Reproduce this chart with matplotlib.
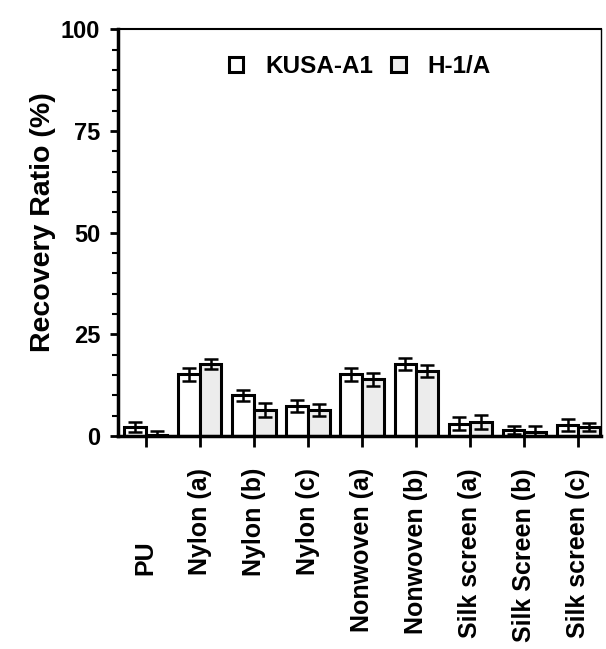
import matplotlib
matplotlib.use("Agg")
import matplotlib.pyplot as plt
import numpy as np
from matplotlib.transforms import ScaledTranslation
from matplotlib.ticker import MultipleLocator

categories = ["PU", "Nylon (a)", "Nylon (b)", "Nylon (c)", "Nonwoven (a)",
              "Nonwoven (b)", "Silk screen (a)", "Silk Screen (b)", "Silk screen (c)"]
kusa = [2.2, 15.2, 10.0, 7.4, 15.2, 17.8, 3.1, 1.6, 2.7]
kusa_err = [1.3, 1.6, 1.4, 1.5, 1.6, 1.5, 1.5, 1.0, 1.4]
h1a = [0.3, 17.7, 6.4, 6.4, 14.0, 16.0, 3.5, 1.0, 2.3]
h1a_err = [1.0, 1.3, 1.7, 1.4, 1.6, 1.4, 1.8, 1.5, 1.0]
series_names = ["KUSA-A1", "H-1/A"]
yticks = [0, 25, 50, 75, 100]

plt.rcParams['font.family'] = ['Liberation Sans', 'DejaVu Sans']
plt.rcParams['font.weight'] = 'bold'

fig = plt.figure(figsize=(6.06, 6.49), dpi=100)
ax = fig.add_axes([0.195, 0.328, 0.797, 0.627])

x = np.arange(len(categories))
w = 0.4
ekw = dict(elinewidth=1.8, capthick=1.8)
ax.bar(x - w / 2, kusa, w, yerr=kusa_err, color='white', edgecolor='black',
       linewidth=2.2, capsize=5, error_kw=ekw, label=series_names[0], zorder=2)
ax.bar(x + w / 2, h1a, w, yerr=h1a_err, color='#ececec', edgecolor='black',
       linewidth=2.2, capsize=5, error_kw=ekw, label=series_names[1], zorder=2)

ax.set_xlim(-0.51, 8.42)
ax.set_ylim(0, 100)
ax.set_yticks(yticks)
ax.set_yticklabels([str(t) for t in yticks], fontsize=17, fontweight='bold')
ax.yaxis.set_minor_locator(MultipleLocator(5))
ax.tick_params(axis='y', which='major', direction='out', length=6, width=2, pad=7)
ax.tick_params(axis='y', which='minor', direction='out', length=4, width=1.5)
ax.set_xticks(x)
ax.set_xticklabels(categories, rotation=90, fontsize=18, fontweight='bold', va='top')
ax.tick_params(axis='x', direction='out', length=8, width=2, pad=15)

# PU label sits lower in the original (its end lines up with Nylon (a))
lbl = ax.get_xticklabels()[0]
lbl.set_transform(lbl.get_transform() + ScaledTranslation(0, -0.72, fig.dpi_scale_trans))

ax.set_ylabel("Recovery Ratio (%)", fontsize=20.5, fontweight='bold')
ax.yaxis.set_label_coords(-0.128, 0.526)

ax.spines['left'].set_linewidth(2.5)
ax.spines['bottom'].set_linewidth(2.5)
ax.spines['top'].set_linewidth(1.5)
ax.spines['right'].set_linewidth(1.0)

ax.legend(loc='upper center', bbox_to_anchor=(0.50, 0.99), ncol=2, frameon=False,
          prop={'weight': 'bold', 'size': 17.5}, handlelength=0.6,
          handleheight=0.6, columnspacing=0.75, handletextpad=0.9)

fig.savefig("out.png", dpi=100)
